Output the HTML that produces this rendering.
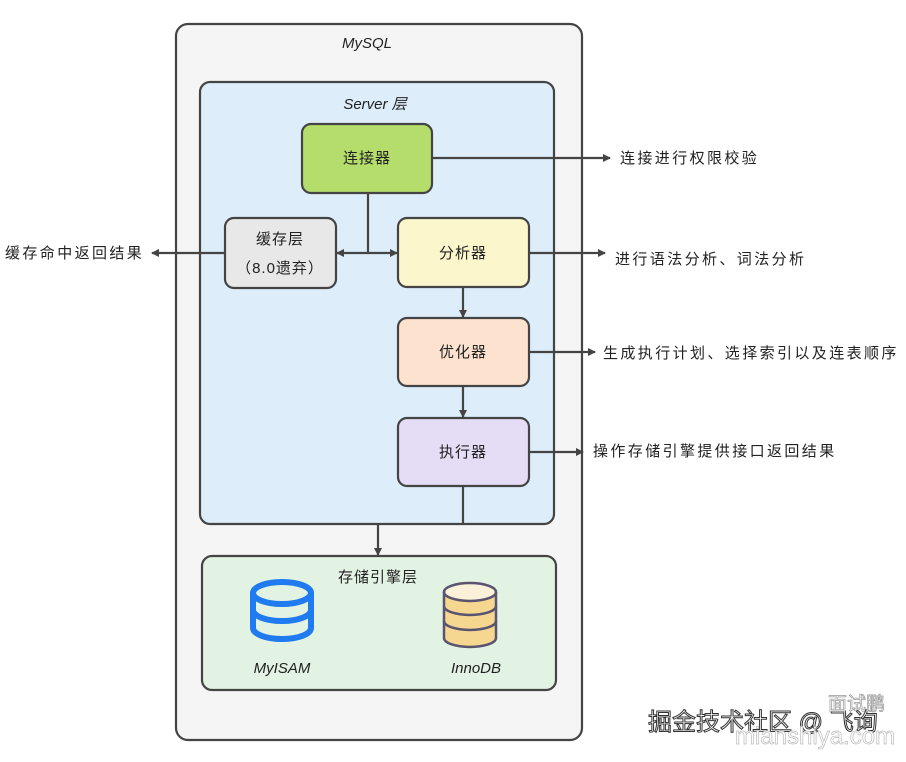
<!DOCTYPE html>
<html><head><meta charset="utf-8"><style>
body{margin:0;background:#fff;width:906px;height:757px;overflow:hidden}
text{font-family:"Liberation Sans","Noto Sans CJK SC",sans-serif;fill:#222}
</style></head><body>
<svg width="906" height="757" viewBox="0 0 906 757" xmlns="http://www.w3.org/2000/svg">
<defs><marker id="a" markerWidth="8" markerHeight="8" refX="7" refY="4" orient="auto" markerUnits="userSpaceOnUse"><path d="M0,0 L8,4 L0,8 z" fill="#444"/></marker></defs>
<g stroke="#444" stroke-width="2.2">
<rect x="176" y="24" width="406" height="716" rx="12" fill="#f5f5f5"/>
<rect x="200" y="82" width="354" height="442" rx="10" fill="#deedfa"/>
<rect x="202" y="556" width="354" height="134" rx="10" fill="#e2f2e3"/>
<rect x="302" y="124" width="130" height="69" rx="9" fill="#b5dd6c"/>
<rect x="225" y="218" width="111" height="70" rx="9" fill="#e8e8e8"/>
<rect x="398" y="218" width="131" height="69" rx="9" fill="#fcf6cc"/>
<rect x="398" y="318" width="131" height="68" rx="9" fill="#fde3cf"/>
<rect x="398" y="418" width="131" height="68" rx="9" fill="#e5dcf5"/>
<g fill="none">
<line x1="432" y1="158" x2="610" y2="158" marker-end="url(#a)"/>
<line x1="225" y1="253" x2="152" y2="253" marker-end="url(#a)"/>
<line x1="529" y1="253" x2="605" y2="253" marker-end="url(#a)"/>
<line x1="529" y1="352" x2="595" y2="352" marker-end="url(#a)"/>
<line x1="529" y1="452" x2="583" y2="452" marker-end="url(#a)"/>
<line x1="368" y1="193" x2="368" y2="253"/>
<line x1="368" y1="253" x2="337" y2="253" marker-end="url(#a)"/>
<line x1="368" y1="253" x2="397" y2="253" marker-end="url(#a)"/>
<line x1="463" y1="287" x2="463" y2="317" marker-end="url(#a)"/>
<line x1="463" y1="386" x2="463" y2="417" marker-end="url(#a)"/>
<line x1="463" y1="486" x2="463" y2="524"/>
<line x1="378" y1="524" x2="378" y2="555" marker-end="url(#a)"/>
</g></g>
<g fill="none" stroke="#1f7bef" stroke-width="6">
<ellipse cx="282" cy="593" rx="29" ry="11"/>
<path d="M253,593 V628 A29,11 0 0 0 311,628 V593"/>
<path d="M253,610 A29,11 0 0 0 311,610"/>
</g>
<g stroke="#5a5470" stroke-width="2.5">
<path d="M444,592 V638 A26,9 0 0 0 496,638 V592" fill="#f5d790"/>
<ellipse cx="470" cy="592" rx="26" ry="9" fill="#fbf0d8"/>
<path d="M444,606 A26,9 0 0 0 496,606 M444,621 A26,9 0 0 0 496,621" fill="none"/>
</g>
<g font-size="15" font-style="italic">
<text x="367" y="48" text-anchor="middle">MySQL</text>
<text x="375" y="109" text-anchor="middle">Server 层</text>
<text x="282" y="673" text-anchor="middle">MyISAM</text>
<text x="476" y="673" text-anchor="middle">InnoDB</text>
</g>
<g font-size="15" text-anchor="middle" letter-spacing="1">
<text x="367" y="163">连接器</text>
<text x="280" y="244">缓存层</text>
<text x="280" y="273">（8.0遗弃）</text>
<text x="463" y="258">分析器</text>
<text x="463" y="357">优化器</text>
<text x="463" y="457">执行器</text>
<text x="378" y="582">存储引擎层</text>
</g>
<g font-size="15" letter-spacing="2.4">
<text x="620" y="163">连接进行权限校验</text>
<text x="5" y="258">缓存命中返回结果</text>
<text x="615" y="264">进行语法分析、词法分析</text>
<text x="603" y="358">生成执行计划、选择索引以及连表顺序</text>
<text x="593" y="456">操作存储引擎提供接口返回结果</text>
</g>
<text x="648" y="730" font-size="24" style="fill:#fff;stroke:#333;stroke-width:1">掘金技术社区 @ 飞询</text>
<text x="828" y="710" font-size="19" style="fill:#fff;stroke:#999;stroke-width:0.7">面试鹏</text>
<text x="735" y="744" font-size="24" style="fill:#fff;stroke:#bbb;stroke-width:0.7">mianshiya.com</text>
</svg>
</body></html>
